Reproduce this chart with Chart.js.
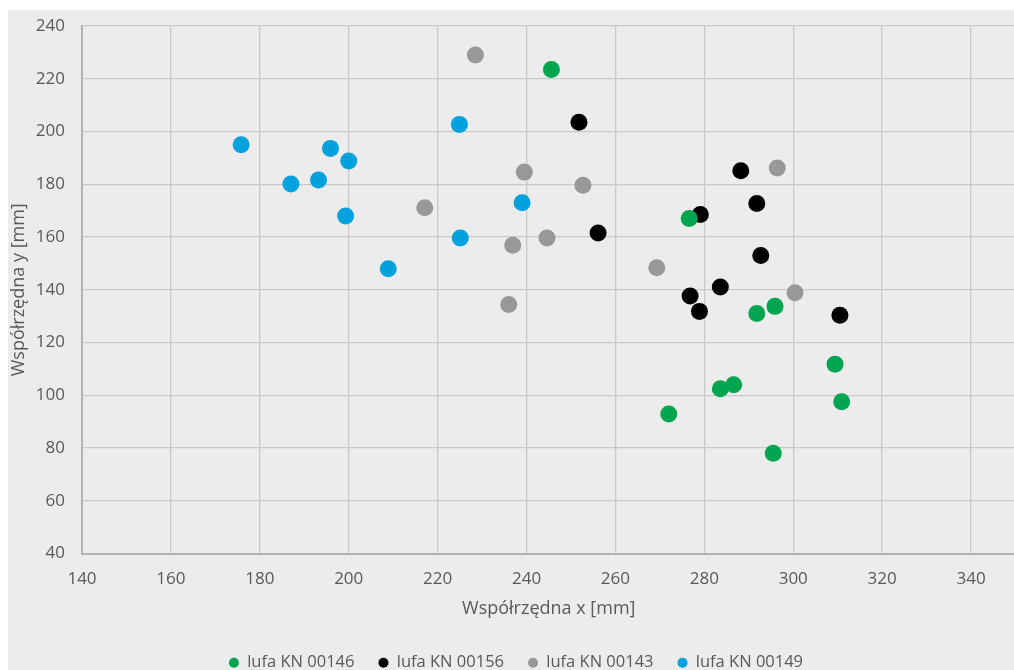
<!DOCTYPE html>
<html>
<head>
<meta charset="utf-8">
<script src="https://cdn.jsdelivr.net/npm/chart.js@4"></script>
<style>
  html, body { margin: 0; padding: 0; background: #fff; overflow: hidden; }
  #wrap { position: absolute; left: 8px; top: 10px; width: 1006px; height: 660px; overflow: hidden; background: #ececec; }
  #chart { position: absolute; left: 0; top: 0; }
</style>
</head>
<body>
<div id="wrap"><canvas id="chart" width="1016" height="671"></canvas></div>
<script>
// punkty, [x, y] w mm
const seriesNames = ['lufa KN 00146', 'lufa KN 00156', 'lufa KN 00143', 'lufa KN 00149'];
const seriesColors = ['#00a54f', '#000000', '#989898', '#00a2de'];

const kn00146 = [
  [245.6, 223.5], [276.6, 167.0], [291.8, 131.0], [295.9, 133.7], [309.4, 111.8],
  [283.6, 102.5], [286.6, 104.0], [310.9, 97.5], [272.0, 92.9], [295.5, 78.0]
];
const kn00156 = [
  [251.8, 203.5], [256.1, 161.5], [288.2, 185.1], [291.8, 172.7], [279.1, 168.5],
  [292.7, 153.0], [283.6, 141.0], [276.8, 137.6], [278.9, 131.8], [310.5, 130.3]
];
const kn00143 = [
  [228.5, 229.0], [239.5, 184.6], [252.7, 179.6], [217.1, 171.1], [236.9, 156.9],
  [244.6, 159.6], [236.0, 134.4], [296.4, 186.2], [269.3, 148.3], [300.4, 138.9]
];
const kn00149 = [
  [175.8, 195.0], [195.9, 193.6], [200.0, 188.8], [187.0, 180.1], [193.2, 181.6],
  [199.3, 168.0], [208.9, 148.0], [224.9, 202.7], [239.0, 173.0], [225.1, 159.6]
];

const xTicks = [140, 160, 180, 200, 220, 240, 260, 280, 300, 320, 340];
const yTicks = [40, 60, 80, 100, 120, 140, 160, 180, 200, 220, 240];

const allSeries = [kn00146, kn00156, kn00143, kn00149];
const textColor = '#595959';
const font = 'Open Sans';

const datasets = allSeries.map((pts, i) => ({
  label: seriesNames[i],
  data: pts.map(p => ({ x: p[0], y: p[1] })),
  backgroundColor: seriesColors[i],
  borderColor: seriesColors[i],
  borderWidth: 0,
  pointRadius: 8.5,
  pointHoverRadius: 8.5,
}));

new Chart(document.getElementById('chart').getContext('2d'), {
  type: 'scatter',
  data: { datasets },
  options: {
    responsive: false,
    animation: false,
    events: [],
    layout: { padding: { top: 16, left: 0, right: 0, bottom: 0 } },
    plugins: {
      tooltip: { enabled: false },
      legend: {
        position: 'bottom',
        labels: {
          usePointStyle: true,
          pointStyle: 'circle',
          boxWidth: 10,
          boxHeight: 7.1,
          padding: 24,
          color: textColor,
          font: { family: font, size: 16.5 },
        },
      },
    },
    scales: {
      x: {
        type: 'linear',
        min: 140,
        max: 350,
        afterBuildTicks: s => { s.ticks = xTicks.map(v => ({ value: v })); },
        afterFit: s => { s.height = 77; },
        grid: { color: '#c9c9c9', lineWidth: 1.3, drawTicks: false },
        border: { color: '#b3b3b3', width: 2 },
        ticks: { color: textColor, font: { family: font, size: 17 }, padding: 15, maxRotation: 0 },
        title: {
          display: true,
          text: 'Współrzędna x [mm]',
          color: textColor,
          font: { family: font, size: 18 },
          padding: { top: 0, bottom: 10.9 },
        },
      },
      y: {
        type: 'linear',
        min: 40,
        max: 240,
        afterBuildTicks: s => { s.ticks = yTicks.map(v => ({ value: v })); },
        afterFit: s => { s.width = 74; s.paddingTop = 0; s.paddingBottom = 0; },
        grid: { color: '#c9c9c9', lineWidth: 1.3, drawTicks: false },
        border: { color: '#b3b3b3', width: 2 },
        ticks: { color: textColor, font: { family: font, size: 17 }, padding: 17 },
        title: {
          display: true,
          text: 'Współrzędna y [mm]',
          color: textColor,
          font: { family: font, size: 18 },
          padding: 0,
        },
      },
    },
  },
});
</script>
</body>
</html>
